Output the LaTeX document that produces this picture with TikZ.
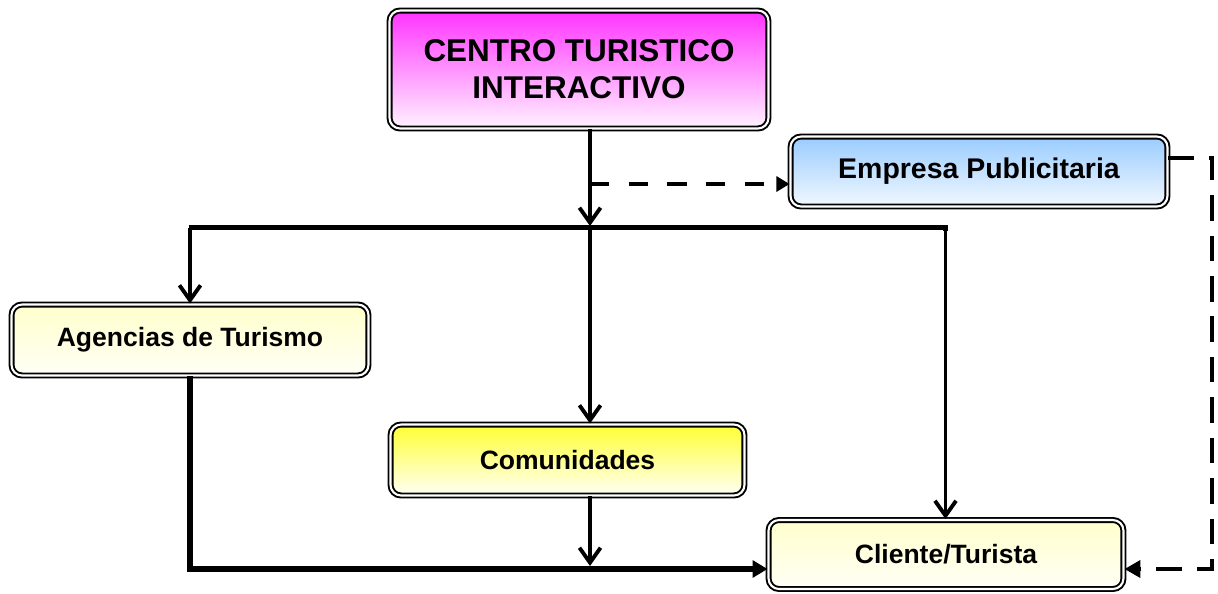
\documentclass[tikz,border=0pt]{standalone}
\usepackage{fontspec}
\setmainfont{Liberation Sans}
\usepackage{tikz}
\usetikzlibrary{
  arrows.meta,
  calc,
  positioning
}
\definecolor{rosa}{HTML}{FF33FF}
\definecolor{rosaclaro}{HTML}{FFF4FF}
\definecolor{celeste}{HTML}{99CCFF}
\definecolor{celesteclaro}{HTML}{F2F8FF}
\definecolor{amarillo}{HTML}{FFFF33}
\definecolor{crema}{HTML}{FFFFCC}
\definecolor{cremaclaro}{HTML}{FFFFF6}

\begin{document}
\begin{tikzpicture}[x=0.02cm, y=-0.02cm,
    caja/.style={draw=black, line width=1.1pt, double=white, double distance=1.2pt,
      rounded corners=6pt, align=center, inner sep=0pt,
      font=\bfseries\fontsize{15.1pt}{18pt}\selectfont},
    flecha/.style={line width=2.2pt, -{Straight Barb[length=8.5pt,width=12pt]}},
    linea/.style={line width=3.2pt},
    punta/.style={line width=3.2pt, -{Triangle[length=8.5pt,width=9.5pt]}},
    trazo/.style={line width=2.6pt, dash pattern=on 11pt off 11pt, -{Triangle[length=7.5pt,width=8.5pt]}},
    trazolargo/.style={line width=2.8pt, dash pattern=on 14.5pt off 8.5pt,
      -{Triangle[length=9pt,width=9.5pt]}}]
  \useasboundingbox (0,0) rectangle (1218,593);

  % cajas
  \node[caja, top color=rosa, bottom color=rosaclaro, minimum width=7.58cm, minimum height=2.36cm,
    font=\bfseries\fontsize{17.9pt}{21pt}\selectfont]
    (centro) at (579,69.5) {CENTRO TURISTICO\\INTERACTIVO};
  \node[caja, top color=celeste, bottom color=celesteclaro, minimum width=7.54cm, minimum height=1.40cm,
    font=\bfseries\fontsize{16.2pt}{19pt}\selectfont]
    (empresa) at (979,171.5) {Empresa Publicitaria};
  \node[caja, top color=crema, bottom color=cremaclaro, minimum width=7.14cm, minimum height=1.42cm]
    (agencias) at (190,340) {Agencias de Turismo};
  \node[caja, top color=amarillo, bottom color=cremaclaro, minimum width=7.08cm, minimum height=1.42cm]
    (comunidades) at (567.5,460) {Comunidades};
  \node[caja, top color=crema, bottom color=cremaclaro, minimum width=7.10cm, minimum height=1.38cm]
    (cliente) at (946,554.5) {Cliente/Turista};

  % puntos de paso
  \coordinate (bajada) at (590,226);
  \coordinate (ramal) at (590,184);
  \coordinate (barraizq) at (190,227.5);
  \coordinate (barrader) at (945.5,227.5);
  \coordinate (abajo) at (190,569);
  \coordinate (esquina) at (1212,158);

  % centro hacia la barra
  \draw[line width=2.2pt] (centro.south -| bajada) -- (ramal);
  \draw[flecha] (ramal) -- (bajada);
  \draw[trazo] (ramal) -- (empresa.west |- ramal);

  % barra
  \draw[linea] ($(barraizq)+(-1.5,0)$) -- (barrader) -- ++(0,3);
  \draw[flecha] (barraizq) -- (agencias.north);
  \draw[flecha] (bajada |- barraizq) -- (bajada |- comunidades.north);
  \draw[flecha] (barrader) -- (barrader |- cliente.north);

  % hacia el cliente
  \draw[punta] (agencias.south) -- (abajo) -- (cliente.west |- abajo);
  \draw[flecha] (comunidades.south -| bajada) -- ($(bajada |- abajo)+(0,-3)$);
  \draw[trazolargo] (empresa.east |- esquina) -- (esquina) -- (esquina |- abajo) -- (cliente.east |- abajo);
\end{tikzpicture}
\end{document}
